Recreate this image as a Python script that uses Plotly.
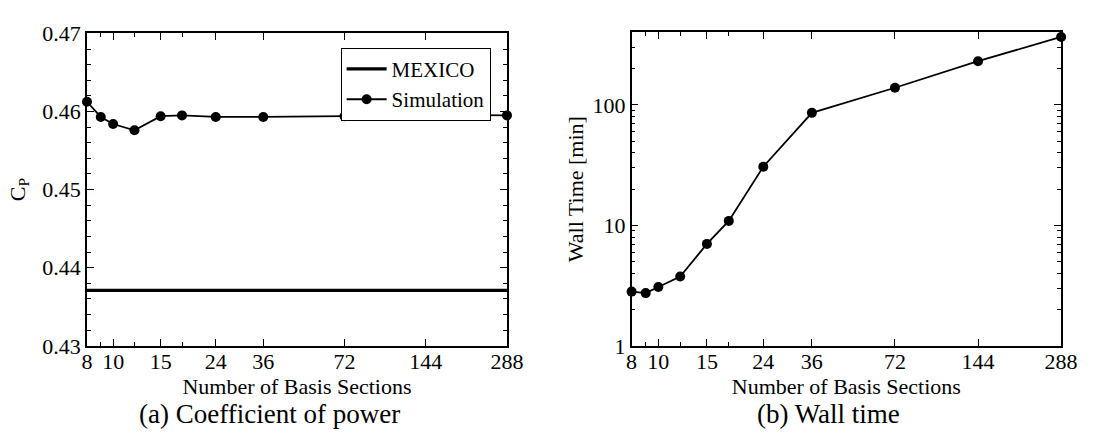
import math
import plotly.graph_objects as go

# Number of basis sections used in the runs
sections = [8, 9, 10, 12, 15, 18, 24, 36, 72, 144, 288]

# Coefficient of power from the simulations, and the measured reference value
cp_sim = [0.46125, 0.4593, 0.4584, 0.4576, 0.4594, 0.4595, 0.4593, 0.4593, 0.4594, 0.4596, 0.4595]
cp_mexico = 0.4371

# Wall time per run [min]
wall_time = [2.82, 2.74, 3.08, 3.76, 7.02, 10.9, 30.7, 86, 139, 231, 367]

# Axis ticks
x_major = [8, 10, 15, 24, 36, 72, 144, 288]
x_minor = [9, 12, 18]
cp_ticks = [0.43, 0.44, 0.45, 0.46, 0.47]
wt_ticks = [1, 10, 100]
wt_minor = [2, 3, 4, 5, 6, 7, 8, 9, 20, 30, 40, 50, 60, 70, 80, 90, 200, 300, 400]

W, H = 1097, 433
FONT = "Liberation Serif, Times New Roman, serif"

fig = go.Figure()

fig.add_trace(go.Scatter(
    x=[sections[0], sections[-1]], y=[cp_mexico, cp_mexico],
    mode="lines", name="MEXICO",
    line=dict(color="black", width=3.2),
    xaxis="x", yaxis="y",
))
fig.add_trace(go.Scatter(
    x=sections, y=cp_sim, mode="lines+markers", name="Simulation",
    line=dict(color="black", width=1.8),
    marker=dict(color="black", size=10),
    xaxis="x", yaxis="y", cliponaxis=False,
))
fig.add_trace(go.Scatter(
    x=sections, y=wall_time, mode="lines+markers", name="Wall time",
    line=dict(color="black", width=1.8),
    marker=dict(color="black", size=10),
    xaxis="x2", yaxis="y2", showlegend=False, cliponaxis=False,
))

def px_x(p):
    return p / W

def px_y(p):
    return (H - p) / H

axis_common = dict(
    showline=True, linecolor="black", linewidth=1.5, mirror="ticks",
    ticks="inside", ticklen=7, tickwidth=1.3, tickcolor="black",
    showgrid=False, zeroline=False,
    tickfont=dict(family=FONT, size=22, color="black"),
)

# x range spans the first to the last run (tiny pad so end markers are kept)
eps = 1e-5
x_range = [math.log10(sections[0]) - eps, math.log10(sections[-1]) + eps]

x_common = dict(
    axis_common, type="log",
    range=x_range,
    tickmode="array", tickvals=x_major, ticktext=[str(v) for v in x_major],
    minor=dict(tickmode="array", tickvals=x_minor, ticks="inside", ticklen=4,
               tickwidth=1.2, tickcolor="black", showgrid=False),
    title=dict(text="Number of Basis Sections", font=dict(family=FONT, size=22, color="black"),
               standoff=0),
    ticklabelstandoff=-5,
)

fig.update_layout(
    width=W, height=H,
    margin=dict(l=0, r=0, t=0, b=0),
    paper_bgcolor="white", plot_bgcolor="white",
    font=dict(family=FONT, color="black"),
    xaxis=dict(x_common, domain=[px_x(82.7), px_x(511.7)], anchor="y"),
    xaxis2=dict(x_common, domain=[px_x(639), px_x(1077.7)], anchor="y2"),
    yaxis=dict(
        axis_common, domain=[px_y(354.3), px_y(22.7)], anchor="x",
        range=[0.43, 0.47 + 1e-7], tickmode="array", tickvals=cp_ticks,
        ticktext=[f"{v:.2f}" for v in cp_ticks],
        minor=dict(dtick=0.002, ticks="inside", ticklen=4, tickwidth=1.2,
                   tickcolor="black", showgrid=False),
        title=dict(text="C<sub>P</sub>", font=dict(family=FONT, size=22, color="black"),
                   standoff=11),
    ),
    yaxis2=dict(
        axis_common, domain=[px_y(354.3), px_y(21.7)], anchor="x2",
        type="log", range=[0, math.log10(400)], tickmode="array", tickvals=wt_ticks,
        ticktext=[str(v) for v in wt_ticks],
        minor=dict(tickmode="array", tickvals=wt_minor, ticks="inside", ticklen=4,
                   tickwidth=1.2, tickcolor="black", showgrid=False),
        title=dict(text="Wall Time [min]", font=dict(family=FONT, size=22, color="black"),
                   standoff=3),
    ),
    legend=dict(
        x=px_x(495), y=px_y(38), xanchor="right", yanchor="top",
        bgcolor="white", bordercolor="black", borderwidth=1,
        font=dict(family=FONT, size=21, color="black"),
        tracegroupgap=0, itemwidth=40,
    ),
    showlegend=True,
)

fig.add_annotation(text="(a) Coefficient of power", x=px_x(269), y=px_y(427),
                   xref="paper", yref="paper", showarrow=False,
                   xanchor="center", yanchor="middle",
                   font=dict(family=FONT, size=27, color="black"))
fig.add_annotation(text="(b) Wall time", x=px_x(840), y=px_y(427),
                   xref="paper", yref="paper", showarrow=False,
                   xanchor="center", yanchor="middle",
                   font=dict(family=FONT, size=27, color="black"))

fig.write_html("out.html")
